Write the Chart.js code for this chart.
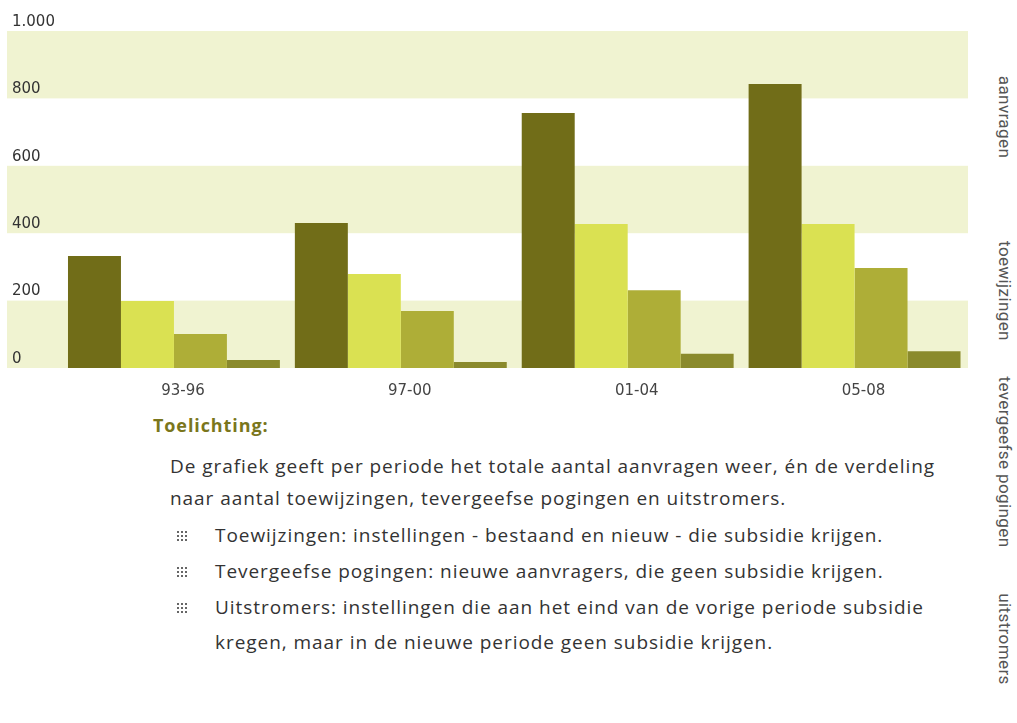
<!DOCTYPE html>
<html lang="nl">
<head>
  <meta charset="UTF-8">
  <title>Aanvragen per periode</title>
  <script src="https://cdn.jsdelivr.net/npm/chart.js"></script>
</head>
<style>
  body { margin: 0; background: #fff; width: 1017px; height: 723px; overflow: hidden; position: relative; font-family: "Open Sans", sans-serif; }
  .chart-container { position: absolute; left: 0; top: 0; width: 975px; height: 407px; }
  .legend-item { position: absolute; left: 1005px; transform: translate(-50%, -50%) rotate(90deg); white-space: nowrap;
    font-family: Roboto, sans-serif; font-size: 17px; letter-spacing: 0.4px; color: #555; }
  .toelichting { position: absolute; left: 153px; top: 413px; font-weight: bold; font-size: 18px; letter-spacing: 0.9px; color: #7a761c; }
  .tekst { position: absolute; left: 170px; top: 450px; width: 830px; font-size: 19px; letter-spacing: 0.95px; color: #333; line-height: 32px; }
  .tekst ul { list-style: none; margin: 4px 0 0 0; padding: 0; }
  .tekst li { position: relative; padding-left: 45px; line-height: 35px; margin-bottom: 1px; }
  .tekst li::before { content: ""; position: absolute; left: 6px; top: 12px; width: 12px; height: 12px;
    background-image: radial-gradient(circle, #666 0.9px, transparent 1.2px); background-size: 4px 4px; }
</style>
<body>
  <div class="chart-container">
    <canvas id="chartCanvas"></canvas>
  </div>
  <div id="legend"></div>

  <div class="toelichting">Toelichting:</div>
  <div class="tekst">
    De grafiek geeft per periode het totale aantal aanvragen weer, én de verdeling<br>
    naar aantal toewijzingen, tevergeefse pogingen en uitstromers.
    <ul>
      <li>Toewijzingen: instellingen - bestaand en nieuw - die subsidie krijgen.</li>
      <li>Tevergeefse pogingen: nieuwe aanvragers, die geen subsidie krijgen.</li>
      <li>Uitstromers: instellingen die aan het eind van de vorige periode subsidie<br>kregen, maar in de nieuwe periode geen subsidie krijgen.</li>
    </ul>
  </div>

  <script>
    const periodes = ['93-96', '97-00', '01-04', '05-08'];
    const reeksNamen = ['aanvragen', 'toewijzingen', 'tevergeefse pogingen', 'uitstromers'];
    const aanvragen = [332, 430, 757, 843];
    const toewijzingen = [199, 279, 427, 427];
    const tevergeefs = [101, 169, 231, 297];
    const uitstromers = [24, 18, 42, 50];
    const yMax = 1000;
    const yStap = 200;
    const banden = [[0, 200], [400, 600], [800, 1000]];

    const kleuren = ['#716d18', '#dae152', '#aeae37', '#8a8a2c'];
    const reeksen = [aanvragen, toewijzingen, tevergeefs, uitstromers];

    // achtergrondbanden, eerst tekenen zodat de aslabels erboven komen
    const bandPlugin = {
      id: 'banden',
      beforeDraw(chart) {
        const ctx = chart.ctx;
        const y = chart.scales.y;
        const area = chart.chartArea;
        ctx.save();
        ctx.fillStyle = '#f0f3d1';
        banden.forEach(b => {
          const top = y.getPixelForValue(b[1]);
          const bottom = y.getPixelForValue(b[0]);
          ctx.fillRect(7, top, area.right - 7, bottom - top);
        });
        ctx.restore();
      }
    };

    const tickFont = { family: '"DejaVu Sans", sans-serif', size: 15 };

    const ctx = document.getElementById('chartCanvas').getContext('2d');
    const chart = new Chart(ctx, {
      type: 'bar',
      data: {
        labels: periodes,
        datasets: reeksen.map((r, i) => ({
          label: reeksNamen[i],
          data: r,
          backgroundColor: kleuren[i],
          borderWidth: 0,
          barPercentage: 1,
          categoryPercentage: 0.934
        }))
      },
      options: {
        responsive: true,
        maintainAspectRatio: false,
        animation: false,
        layout: { padding: { top: 31, left: 12, right: 7, bottom: 1 } },
        plugins: { legend: { display: false }, tooltip: { enabled: false } },
        scales: {
          x: {
            grid: { display: false },
            border: { display: false },
            ticks: {
              color: '#444',
              font: tickFont,
              padding: 6,
              labelOffset: 9,
              maxRotation: 0
            }
          },
          y: {
            min: 0,
            max: yMax,
            grid: { display: false },
            border: { display: false },
            afterFit(scale) { scale.width = 48.5; },
            ticks: {
              stepSize: yStap,
              autoSkip: false,
              crossAlign: 'far',
              labelOffset: -9,
              color: '#333',
              font: tickFont,
              callback: v => v >= 1000 ? Math.floor(v / 1000) + '.' + String(v % 1000).padStart(3, '0') : String(v)
            }
          }
        }
      },
      plugins: [bandPlugin]
    });

    // legenda rechts, verticaal
    const legendY = [117, 291, 462, 639];
    const legend = document.getElementById('legend');
    reeksNamen.forEach((naam, i) => {
      const el = document.createElement('div');
      el.className = 'legend-item';
      el.style.top = legendY[i] + 'px';
      el.textContent = naam;
      legend.appendChild(el);
    });
  </script>
</body>
</html>
